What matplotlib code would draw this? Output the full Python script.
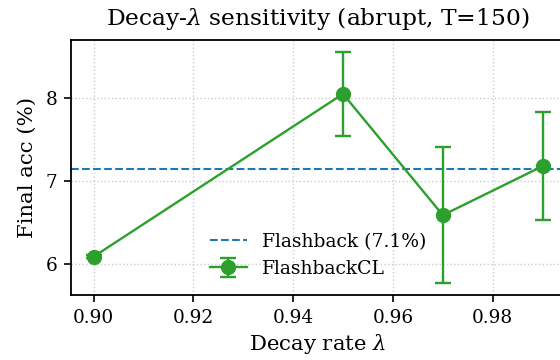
import numpy as np
import matplotlib
matplotlib.use("Agg")
import matplotlib.pyplot as plt

plt.rcParams['font.family'] = ['DejaVu Serif']
plt.rcParams['mathtext.fontset'] = 'dejavuserif'

decay = [0.90, 0.95, 0.97, 0.99]
acc_mean = [6.09, 8.05, 6.59, 7.18]
acc_std = [0.02, 0.51, 0.82, 0.65]
baseline = 7.14

fig = plt.figure(figsize=(5.6, 3.6), dpi=100)
ax = fig.add_axes([0.127, 0.181, 0.882, 0.708])

ax.axhline(baseline, color='#1f77b4', ls='--', lw=1.5, label='Flashback (7.1%)')
ax.errorbar(decay, acc_mean, yerr=acc_std, color='#2ca02c', marker='o', ms=10,
            lw=1.7, capsize=5.5, elinewidth=1.7, capthick=1.7, label='FlashbackCL')

ax.set_xticks([0.90, 0.92, 0.94, 0.96, 0.98])
ax.set_yticks([6, 7, 8])
ax.grid(True, ls=':', color='#cccccc', lw=1)
ax.tick_params(labelsize=13.3, width=1.2, length=5, pad=5)
for s in ax.spines.values():
    s.set_linewidth(1.3)

ax.set_xlabel(r'Decay rate $\lambda$', fontsize=15.3, labelpad=4)
ax.set_ylabel('Final acc (%)', fontsize=15.3, labelpad=6)
ax.set_title(r'Decay-$\lambda$ sensitivity (abrupt, T=150)', fontsize=16.8, pad=11)
ax.legend(loc='lower center', frameon=False, fontsize=13.5)

fig.savefig('out.png', dpi=100)
